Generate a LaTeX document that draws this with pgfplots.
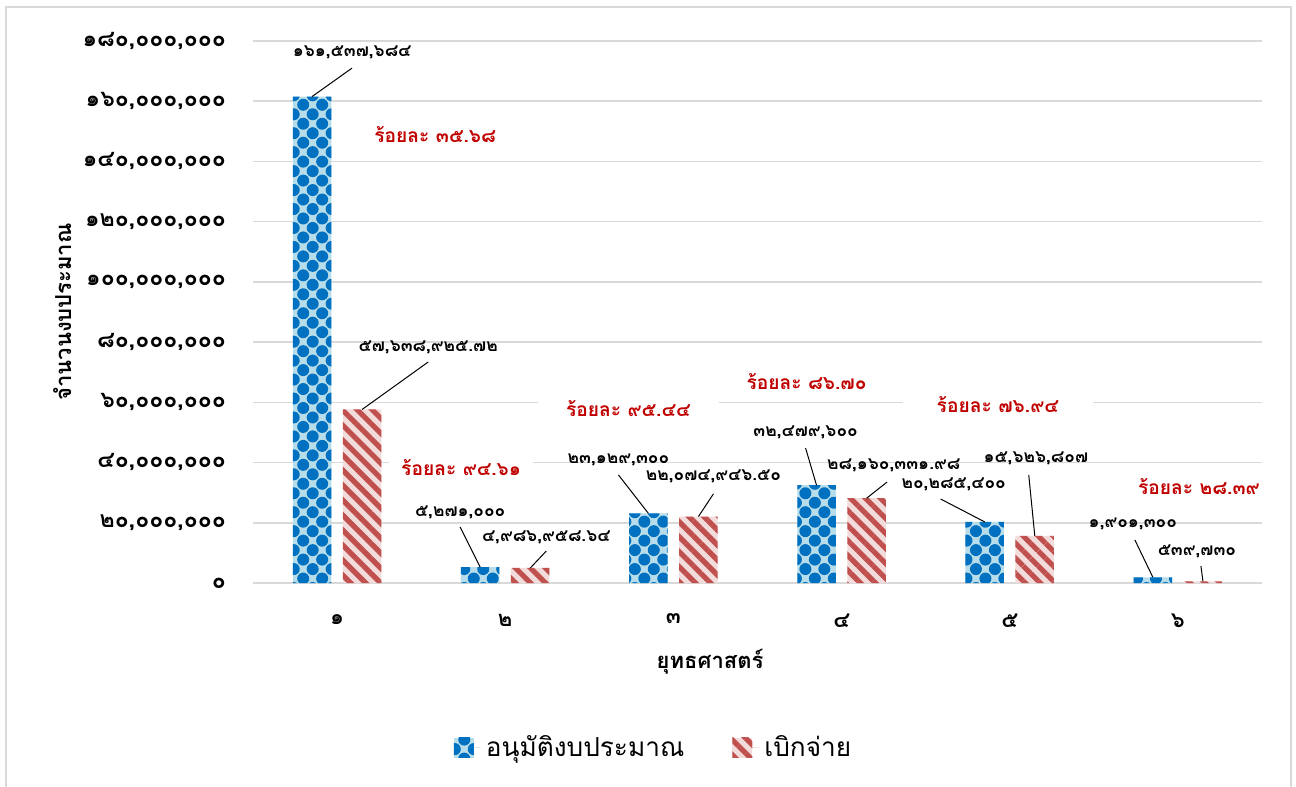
\documentclass[border=0pt]{standalone}
\usepackage{fontspec}
\setmainfont[Script=Thai]{Loma}
\usepackage{pgfplots}
\pgfplotsset{compat=1.18}
\usetikzlibrary{patterns.meta}

\definecolor{bluedark}{HTML}{0070C0}
\definecolor{bluelight}{HTML}{B7DDEA}
\definecolor{reddark}{HTML}{C0504D}
\definecolor{redlight}{HTML}{F2DCDB}
\definecolor{pctred}{HTML}{C00000}
\definecolor{gridgray}{HTML}{D9D9D9}

\newcommand{\fs}[1]{\fontsize{#1}{#1}\selectfont}

\tikzset{
  vlab/.style={font=\bfseries\fs{8.7}, text=black, inner sep=1pt},
  pct/.style={font=\bfseries\fs{9.6}, text=pctred, fill=white, inner xsep=14pt, inner ysep=3pt},
  lead/.style={black, line width=0.5pt},
}
\pgfplotsset{
  patchlegend/.style={legend image code/.code={%
      \path[##1] (0pt,-5pt) rectangle (10pt,5pt);
      \path (0pt,0pt) -- (14pt,0pt);}},
}

\begin{document}
\begin{tikzpicture}
\useasboundingbox (-126.5pt,-102pt) rectangle (521.5pt,291.5pt);
\draw[gridgray, line width=1pt] (-123.5pt,-110pt) rectangle (519pt,288pt);
\begin{axis}[
    at={(0,0)}, anchor=south west,
    width=504.5pt, height=271pt, scale only axis,
    xmin=0.5, xmax=6.5, ymin=0, ymax=180000000,
    xtick={1,...,6},
    xticklabels={๑,๒,๓,๔,๕,๖},
    ytick={0,20000000,...,180000000},
    yticklabels={{๐},{๒๐,๐๐๐,๐๐๐},{๔๐,๐๐๐,๐๐๐},{๖๐,๐๐๐,๐๐๐},{๘๐,๐๐๐,๐๐๐},{๑๐๐,๐๐๐,๐๐๐},{๑๒๐,๐๐๐,๐๐๐},{๑๔๐,๐๐๐,๐๐๐},{๑๖๐,๐๐๐,๐๐๐},{๑๘๐,๐๐๐,๐๐๐}},
    scaled y ticks=false,
    major tick length=0pt,
    axis line style={draw=none},
    ymajorgrids, grid style={gridgray, line width=0.75pt},
    yticklabel style={font=\bfseries\fs{11.5}, xshift=-10pt},
    xticklabel style={font=\bfseries\fs{11}, yshift=-12pt},
    xlabel={ยุทธศาสตร์},
    ylabel={จำนวนงบประมาณ},
    xlabel style={font=\bfseries\fs{11}, at={(axis description cs:0.453,-0.146)}, anchor=center},
    ylabel style={font=\bfseries\fs{11}, at={(axis description cs:-0.189,0.5)}, anchor=center},
    ybar, bar width=19.25pt,
    clip=false,
    legend style={font=\fs{13.1}, draw=none, fill=none, legend columns=2,
        at={(axis description cs:0.398,-0.304)}, anchor=center,
        /tikz/every even column/.append style={column sep=22pt}},
]
\addplot[fill=bluelight, draw=none, bar shift=-12.5pt,
    postaction={pattern={Dots[radius=3pt,distance=6.7pt,angle=45]}, pattern color=bluedark},
    patchlegend]
    coordinates {(1,161537684) (2,5271000) (3,23129300) (4,32479600) (5,20285400) (6,1901300)};
\addlegendentry{อนุมัติงบประมาณ}
\addplot[fill=redlight, draw=none, bar shift=12.5pt,
    postaction={pattern={Lines[angle=-45,distance=5.3pt,line width=2.6pt]}, pattern color=reddark},
    patchlegend]
    coordinates {(1,57638925.72) (2,4986958.64) (3,22074946.50) (4,28160331.98) (5,15626807) (6,539730)};
\addlegendentry{เบิกจ่าย}

% leader lines
\draw[lead] (axis cs:1.089,171000000) -- (axis cs:0.851,161537684);
\draw[lead] (axis cs:1.542,73400000) -- (axis cs:1.149,57638925.72);
\draw[lead] (axis cs:1.732,18600000) -- (axis cs:1.851,5271000);
\draw[lead] (axis cs:2.244,10600000) -- (axis cs:2.149,4986958.64);
\draw[lead] (axis cs:2.673,35900000) -- (axis cs:2.851,23129300);
\draw[lead] (axis cs:3.238,29600000) -- (axis cs:3.149,22074946.50);
\draw[lead] (axis cs:3.786,44800000) -- (axis cs:3.851,32479600);
\draw[lead] (axis cs:4.270,33500000) -- (axis cs:4.149,28160331.98);
\draw[lead] (axis cs:4.589,27900000) -- (axis cs:4.851,20285400);
\draw[lead] (axis cs:5.113,35900000) -- (axis cs:5.149,15626807);
\draw[lead] (axis cs:5.744,14300000) -- (axis cs:5.851,1901300);
\draw[lead] (axis cs:6.137,5600000) -- (axis cs:6.149,539730);

% value labels
\node[vlab] at (axis cs:1.089,176300000) {๑๖๑,๕๓๗,๖๘๔};
\node[vlab] at (axis cs:1.542,78400000) {๕๗,๖๓๘,๙๒๕.๗๒};
\node[vlab] at (axis cs:1.732,23600000) {๕,๒๗๑,๐๐๐};
\node[vlab] at (axis cs:2.244,15300000) {๔,๙๘๖,๙๕๘.๖๔};
\node[vlab] at (axis cs:2.673,40800000) {๒๓,๑๒๙,๓๐๐};
\node[vlab] at (axis cs:3.238,35500000) {๒๒,๐๗๔,๙๔๖.๕๐};
\node[vlab] at (axis cs:3.786,50100000) {๓๒,๔๗๙,๖๐๐};
\node[vlab] at (axis cs:4.310,38900000) {๒๘,๑๖๐,๓๓๑.๙๘};
\node[vlab] at (axis cs:4.667,32900000) {๒๐,๒๘๕,๔๐๐};
\node[vlab] at (axis cs:5.155,41500000) {๑๕,๖๒๖,๘๐๗};
\node[vlab] at (axis cs:5.732,19600000) {๑,๙๐๑,๓๐๐};
\node[vlab] at (axis cs:6.113,10600000) {๕๓๙,๗๓๐};

% percentage labels
\node[pct] at (axis cs:1.583,148800000) {ร้อยละ ๓๕.๖๘};
\node[pct, inner xsep=6pt] at (axis cs:1.738,38500000) {ร้อยละ ๙๔.๖๑};
\node[pct] at (axis cs:2.732,57800000) {ร้อยละ ๙๕.๔๔};
\node[pct, inner ysep=1pt] at (axis cs:3.792,66800000) {ร้อยละ ๘๖.๗๐};
\node[pct, inner xsep=17pt] at (axis cs:4.929,59400000) {ร้อยละ ๗๖.๙๔};
\node[pct, inner ysep=7pt, inner xsep=8pt] at (axis cs:6.125,31900000) {ร้อยละ ๒๘.๓๙};
\end{axis}
\end{tikzpicture}
\end{document}
